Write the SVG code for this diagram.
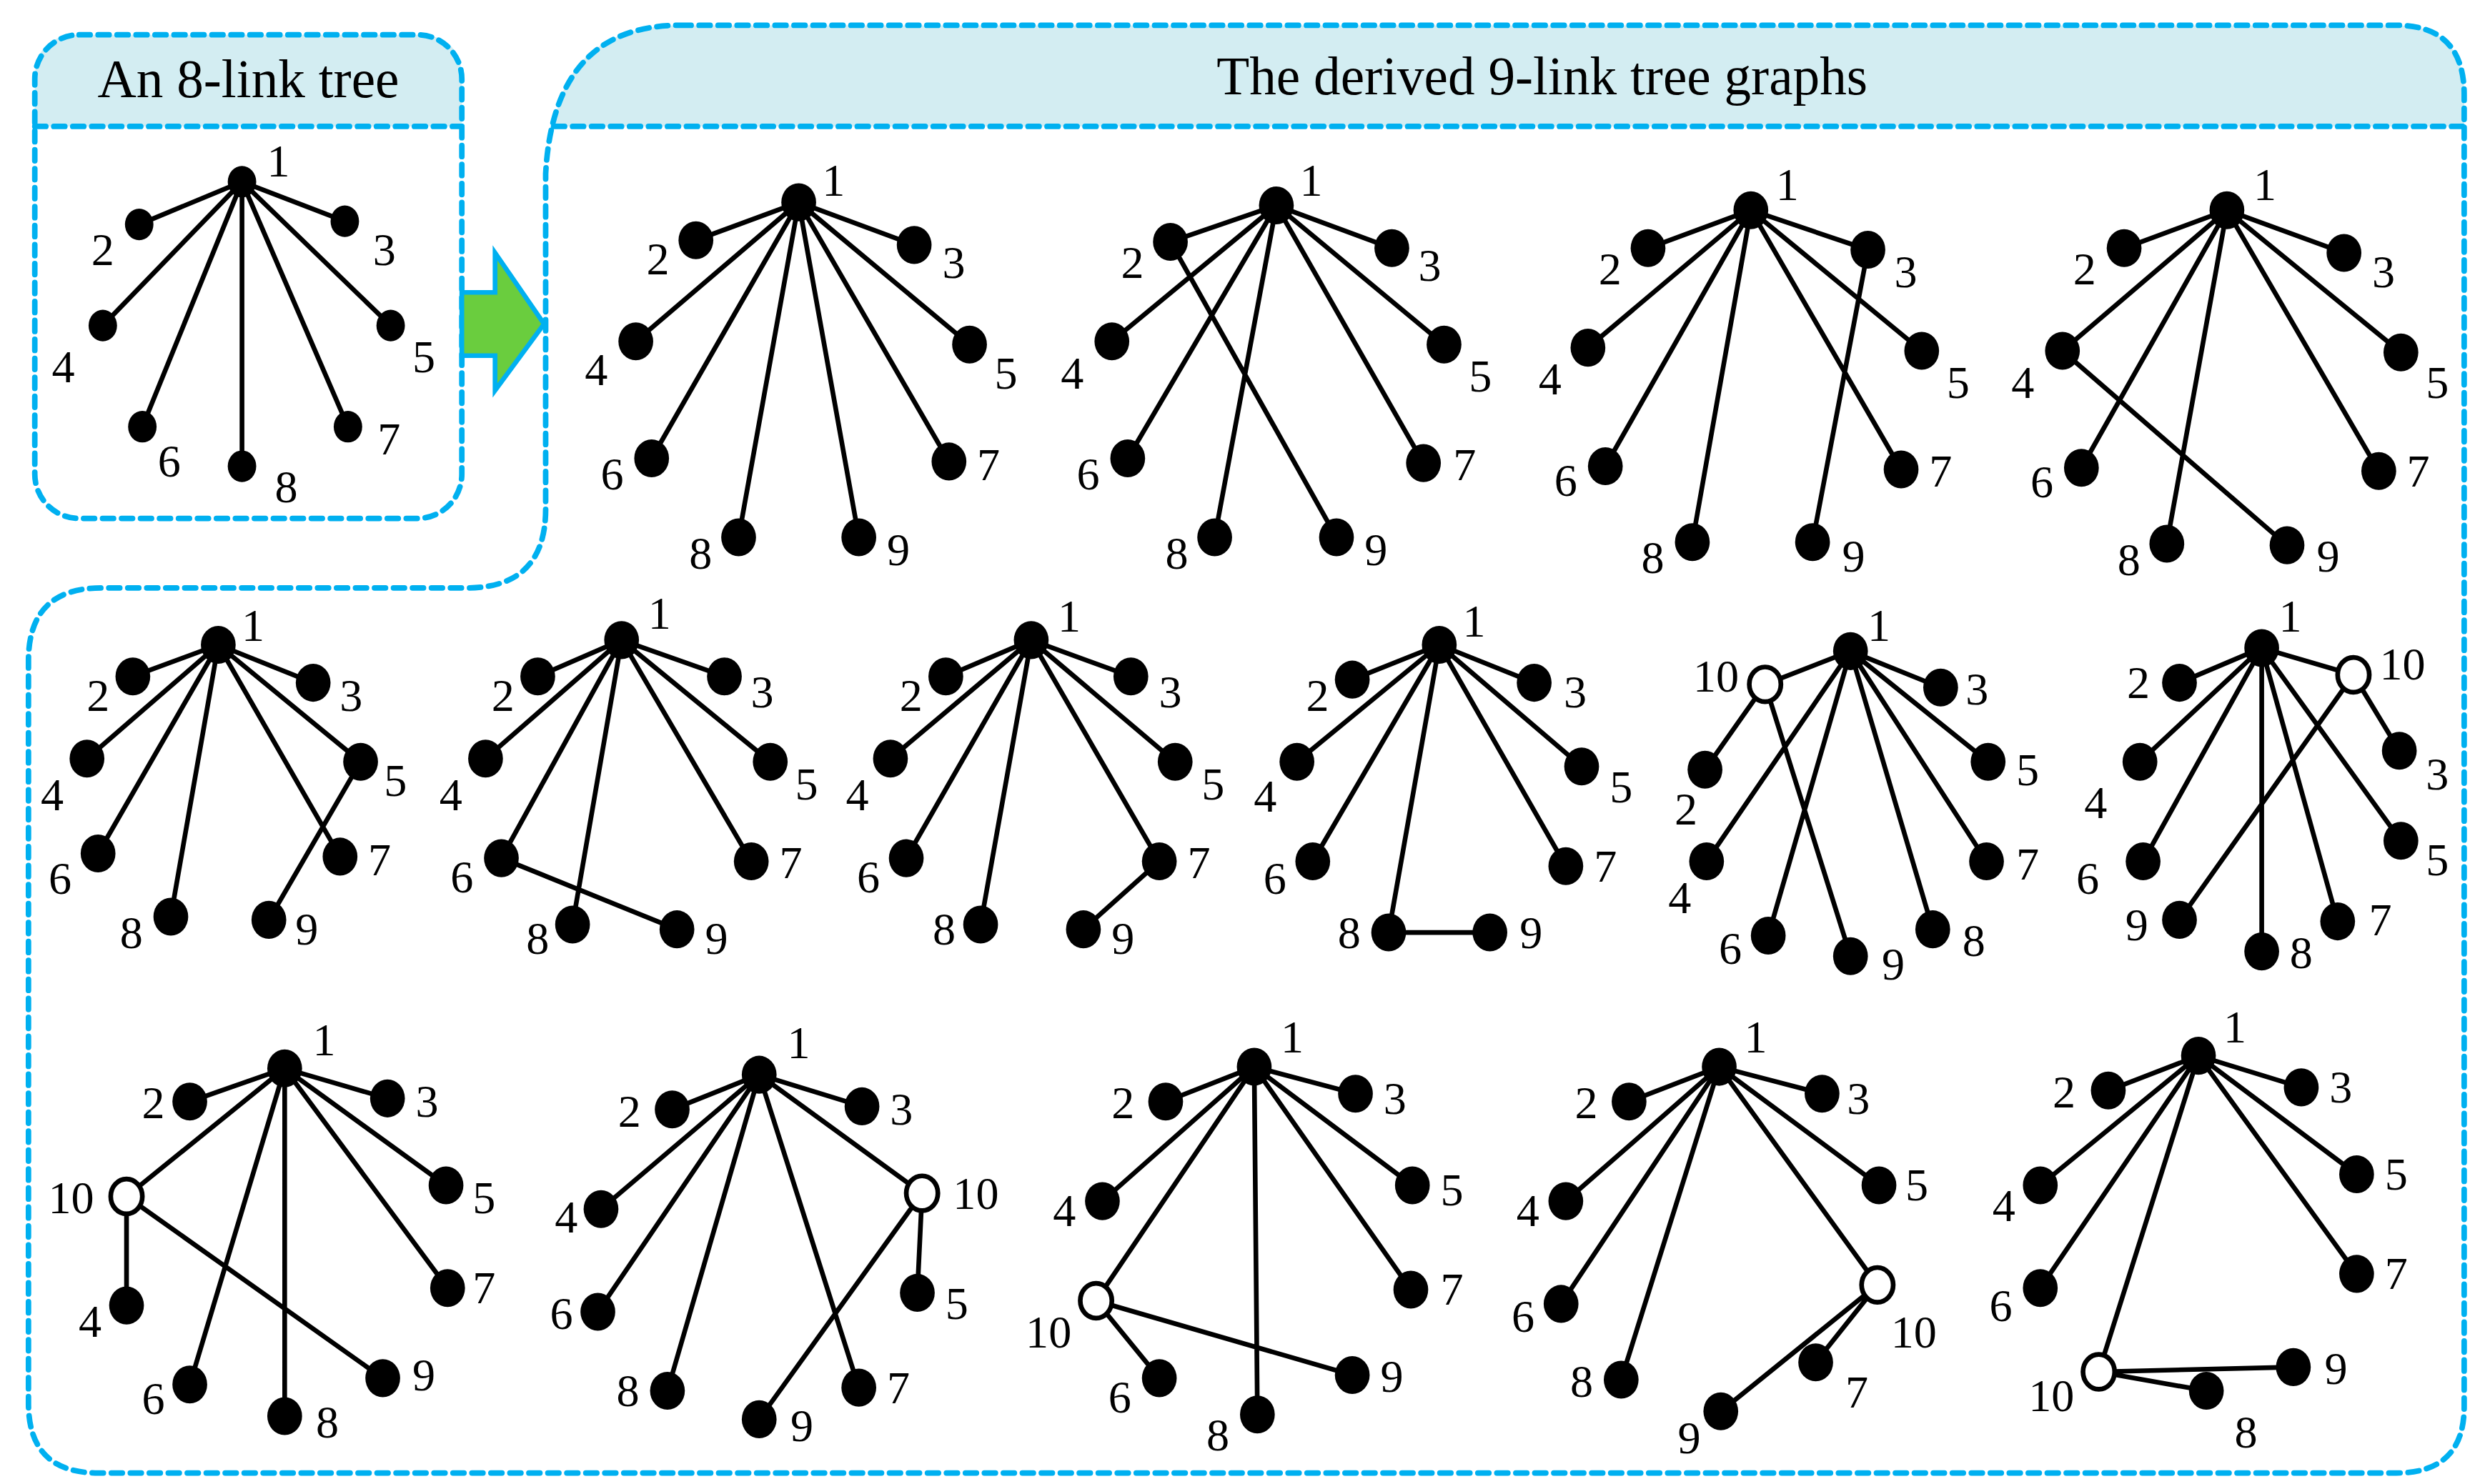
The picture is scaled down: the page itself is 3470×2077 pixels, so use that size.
<svg xmlns="http://www.w3.org/2000/svg" width="3470" height="2077" viewBox="0 0 3470 2077">
<style>
.e{stroke:#000;stroke-width:3;fill:none}
.n{fill:#000}
.o{fill:#fff;stroke:#000;stroke-width:3}
text{font-family:"Liberation Serif",serif;font-size:29px;text-anchor:middle;dominant-baseline:central;fill:#000}
.t{font-size:34px}
.b{fill:none;stroke:#00b0f0;stroke-width:3.5;stroke-dasharray:7,5;stroke-linecap:round}
.h{fill:#d3edf2}
</style>
<rect width="3470" height="2077" fill="#fff"/>
<g transform="scale(2.213,2.212)">
<g id="frames">
<path class="h" d="M22,80 V50 Q22,22 50,22 H264 Q292,22 292,50 V80 Z"/>
<rect class="b" x="22" y="22" width="270" height="306" rx="28"/>
<line class="b" x1="22" y1="80" x2="292" y2="80"/>
<text class="t" x="157" y="50">An 8-link tree</text>
<path class="h" d="M350,80 Q360,16 430,16 H1515 Q1558,16 1558,60 V80 Z"/>
<path class="b" d="M430,16 H1515 Q1558,16 1558,60 V890 Q1558,932 1515,932 H62 Q18,932 18,888 V418 Q18,372 64,372 H295 Q345,372 345,322 V110 Q350,16 430,16 Z"/>
<line class="b" x1="350" y1="80" x2="1558" y2="80"/>
<text class="t" x="975" y="48">The derived 9-link tree graphs</text>
<polygon points="292,185 313,185 313,160 344,205 313,247 313,225 292,225" fill="#6acd3e" stroke="#00b0f0" stroke-width="3"/>
</g>
<g id="connectors">
<path class="e" d="M153,115L88,142M153,115L218,140M153,115L65,206M153,115L247,206M153,115L90,270M153,115L220,270M153,115L153,295"/>
<path class="e" d="M505,128L440,152M505,128L578,155M505,128L402,216M505,128L613,218M505,128L412,290M505,128L600,292M505,128L467,340M505,128L543,340"/>
<path class="e" d="M807,130L740,153M807,130L880,157M807,130L703,216M807,130L913,218M807,130L713,290M807,130L900,293M807,130L768,340M740,153L845,340"/>
<path class="e" d="M1107,133L1042,157M1107,133L1181,158M1107,133L1004,220M1107,133L1215,222M1107,133L1015,295M1107,133L1202,297M1107,133L1070,343M1181,158L1146,343"/>
<path class="e" d="M1408,133L1343,157M1408,133L1482,160M1408,133L1304,222M1408,133L1518,223M1408,133L1316,296M1408,133L1504,298M1408,133L1370,344M1304,222L1446,345"/>
<path class="e" d="M138,408L84,428M138,408L198,432M138,408L55,480M138,408L228,482M138,408L62,540M138,408L215,542M138,408L108,580M228,482L170,582"/>
<path class="e" d="M393,405L340,428M393,405L458,428M393,405L307,480M393,405L487,482M393,405L317,543M393,405L475,545M393,405L362,585M317,543L428,588"/>
<path class="e" d="M652,405L598,428M652,405L715,428M652,405L563,480M652,405L743,482M652,405L573,543M652,405L733,545M652,405L620,585M733,545L685,588"/>
<path class="e" d="M910,408L855,430M910,408L970,432M910,408L820,482M910,408L1000,485M910,408L830,545M910,408L990,548M910,408L878,590M878,590L942,590"/>
<path class="e" d="M1170,412L1116,433M1170,412L1227,435M1170,412L1257,482M1170,412L1256,545M1170,412L1222,588M1170,412L1118,592M1170,412L1079,545M1116,433L1078,487M1116,433L1170,605"/>
<path class="e" d="M1430,410L1378,432M1430,410L1488,427M1430,410L1353,482M1430,410L1355,545M1430,410L1430,602M1430,410L1478,583M1430,410L1518,532M1488,427L1517,475M1488,427L1378,582"/>
<path class="e" d="M180,676L120,697M180,676L245,695M180,676L80,757M180,676L282,750M180,676L283,815M180,676L120,876M180,676L180,896M80,757L80,826M80,757L242,872"/>
<path class="e" d="M480,680L425,702M480,680L545,700M480,680L380,765M480,680L378,830M480,680L422,880M480,680L543,878M480,680L583,755M583,755L580,818M583,755L480,898"/>
<path class="e" d="M793,675L737,697M793,675L857,692M793,675L697,760M793,675L693,823M793,675L795,895M793,675L892,816M793,675L893,750M693,823L733,872M693,823L855,870"/>
<path class="e" d="M1087,675L1030,697M1087,675L1152,692M1087,675L990,760M1087,675L987,825M1087,675L1025,873M1087,675L1187,813M1087,675L1188,750M1187,813L1148,862M1187,813L1088,893"/>
<path class="e" d="M1390,668L1333,690M1390,668L1455,688M1390,668L1290,750M1390,668L1290,815M1390,668L1327,868M1390,668L1490,806M1390,668L1490,743M1327,868L1450,865M1327,868L1395,880"/>
</g>
<g id="tree0">
<ellipse class="n" cx="153" cy="115" rx="9" ry="10"/><ellipse class="n" cx="88" cy="142" rx="9" ry="10"/><ellipse class="n" cx="218" cy="140" rx="9" ry="10"/><ellipse class="n" cx="65" cy="206" rx="9" ry="10"/><ellipse class="n" cx="247" cy="206" rx="9" ry="10"/><ellipse class="n" cx="90" cy="270" rx="9" ry="10"/><ellipse class="n" cx="220" cy="270" rx="9" ry="10"/><ellipse class="n" cx="153" cy="295" rx="9" ry="10"/>
<text x="176" y="102">1</text><text x="65" y="158">2</text><text x="243" y="158">3</text><text x="40" y="232">4</text><text x="268" y="226">5</text><text x="107" y="292">6</text><text x="246" y="278">7</text><text x="181" y="308">8</text>
</g>
<g id="gA">
<ellipse class="n" cx="505" cy="128" rx="11" ry="12"/><ellipse class="n" cx="440" cy="152" rx="11" ry="12"/><ellipse class="n" cx="578" cy="155" rx="11" ry="12"/><ellipse class="n" cx="402" cy="216" rx="11" ry="12"/><ellipse class="n" cx="613" cy="218" rx="11" ry="12"/><ellipse class="n" cx="412" cy="290" rx="11" ry="12"/><ellipse class="n" cx="600" cy="292" rx="11" ry="12"/><ellipse class="n" cx="467" cy="340" rx="11" ry="12"/><ellipse class="n" cx="543" cy="340" rx="11" ry="12"/>
<text x="527" y="114">1</text><text x="416" y="164">2</text><text x="603" y="166">3</text><text x="377" y="234">4</text><text x="636" y="236">5</text><text x="387" y="300">6</text><text x="625" y="294">7</text><text x="443" y="350">8</text><text x="568" y="348">9</text>
</g>
<g id="gB">
<ellipse class="n" cx="807" cy="130" rx="11" ry="12"/><ellipse class="n" cx="740" cy="153" rx="11" ry="12"/><ellipse class="n" cx="880" cy="157" rx="11" ry="12"/><ellipse class="n" cx="703" cy="216" rx="11" ry="12"/><ellipse class="n" cx="913" cy="218" rx="11" ry="12"/><ellipse class="n" cx="713" cy="290" rx="11" ry="12"/><ellipse class="n" cx="900" cy="293" rx="11" ry="12"/><ellipse class="n" cx="768" cy="340" rx="11" ry="12"/><ellipse class="n" cx="845" cy="340" rx="11" ry="12"/>
<text x="829" y="114">1</text><text x="716" y="166">2</text><text x="904" y="168">3</text><text x="678" y="236">4</text><text x="936" y="238">5</text><text x="688" y="300">6</text><text x="926" y="294">7</text><text x="744" y="350">8</text><text x="870" y="348">9</text>
</g>
<g id="gC">
<ellipse class="n" cx="1107" cy="133" rx="11" ry="12"/><ellipse class="n" cx="1042" cy="157" rx="11" ry="12"/><ellipse class="n" cx="1181" cy="158" rx="11" ry="12"/><ellipse class="n" cx="1004" cy="220" rx="11" ry="12"/><ellipse class="n" cx="1215" cy="222" rx="11" ry="12"/><ellipse class="n" cx="1015" cy="295" rx="11" ry="12"/><ellipse class="n" cx="1202" cy="297" rx="11" ry="12"/><ellipse class="n" cx="1070" cy="343" rx="11" ry="12"/><ellipse class="n" cx="1146" cy="343" rx="11" ry="12"/>
<text x="1130" y="117">1</text><text x="1018" y="170">2</text><text x="1205" y="172">3</text><text x="980" y="240">4</text><text x="1238" y="242">5</text><text x="990" y="304">6</text><text x="1227" y="298">7</text><text x="1045" y="353">8</text><text x="1172" y="352">9</text>
</g>
<g id="gD">
<ellipse class="n" cx="1408" cy="133" rx="11" ry="12"/><ellipse class="n" cx="1343" cy="157" rx="11" ry="12"/><ellipse class="n" cx="1482" cy="160" rx="11" ry="12"/><ellipse class="n" cx="1304" cy="222" rx="11" ry="12"/><ellipse class="n" cx="1518" cy="223" rx="11" ry="12"/><ellipse class="n" cx="1316" cy="296" rx="11" ry="12"/><ellipse class="n" cx="1504" cy="298" rx="11" ry="12"/><ellipse class="n" cx="1370" cy="344" rx="11" ry="12"/><ellipse class="n" cx="1446" cy="345" rx="11" ry="12"/>
<text x="1432" y="117">1</text><text x="1318" y="170">2</text><text x="1507" y="172">3</text><text x="1279" y="242">4</text><text x="1541" y="242">5</text><text x="1291" y="305">6</text><text x="1529" y="298">7</text><text x="1346" y="354">8</text><text x="1472" y="352">9</text>
</g>
<g id="gE">
<ellipse class="n" cx="138" cy="408" rx="11" ry="12"/><ellipse class="n" cx="84" cy="428" rx="11" ry="12"/><ellipse class="n" cx="198" cy="432" rx="11" ry="12"/><ellipse class="n" cx="55" cy="480" rx="11" ry="12"/><ellipse class="n" cx="228" cy="482" rx="11" ry="12"/><ellipse class="n" cx="62" cy="540" rx="11" ry="12"/><ellipse class="n" cx="215" cy="542" rx="11" ry="12"/><ellipse class="n" cx="108" cy="580" rx="11" ry="12"/><ellipse class="n" cx="170" cy="582" rx="11" ry="12"/>
<text x="160" y="396">1</text><text x="62" y="440">2</text><text x="222" y="440">3</text><text x="33" y="503">4</text><text x="250" y="494">5</text><text x="38" y="556">6</text><text x="240" y="544">7</text><text x="83" y="590">8</text><text x="194" y="588">9</text>
</g>
<g id="gF">
<ellipse class="n" cx="393" cy="405" rx="11" ry="12"/><ellipse class="n" cx="340" cy="428" rx="11" ry="12"/><ellipse class="n" cx="458" cy="428" rx="11" ry="12"/><ellipse class="n" cx="307" cy="480" rx="11" ry="12"/><ellipse class="n" cx="487" cy="482" rx="11" ry="12"/><ellipse class="n" cx="317" cy="543" rx="11" ry="12"/><ellipse class="n" cx="475" cy="545" rx="11" ry="12"/><ellipse class="n" cx="362" cy="585" rx="11" ry="12"/><ellipse class="n" cx="428" cy="588" rx="11" ry="12"/>
<text x="417" y="388">1</text><text x="318" y="440">2</text><text x="482" y="438">3</text><text x="285" y="503">4</text><text x="510" y="496">5</text><text x="292" y="555">6</text><text x="500" y="546">7</text><text x="340" y="594">8</text><text x="453" y="594">9</text>
</g>
<g id="gG">
<ellipse class="n" cx="652" cy="405" rx="11" ry="12"/><ellipse class="n" cx="598" cy="428" rx="11" ry="12"/><ellipse class="n" cx="715" cy="428" rx="11" ry="12"/><ellipse class="n" cx="563" cy="480" rx="11" ry="12"/><ellipse class="n" cx="743" cy="482" rx="11" ry="12"/><ellipse class="n" cx="573" cy="543" rx="11" ry="12"/><ellipse class="n" cx="733" cy="545" rx="11" ry="12"/><ellipse class="n" cx="620" cy="585" rx="11" ry="12"/><ellipse class="n" cx="685" cy="588" rx="11" ry="12"/>
<text x="676" y="390">1</text><text x="576" y="440">2</text><text x="740" y="438">3</text><text x="542" y="503">4</text><text x="767" y="496">5</text><text x="549" y="555">6</text><text x="758" y="546">7</text><text x="597" y="588">8</text><text x="710" y="594">9</text>
</g>
<g id="gH">
<ellipse class="n" cx="910" cy="408" rx="11" ry="12"/><ellipse class="n" cx="855" cy="430" rx="11" ry="12"/><ellipse class="n" cx="970" cy="432" rx="11" ry="12"/><ellipse class="n" cx="820" cy="482" rx="11" ry="12"/><ellipse class="n" cx="1000" cy="485" rx="11" ry="12"/><ellipse class="n" cx="830" cy="545" rx="11" ry="12"/><ellipse class="n" cx="990" cy="548" rx="11" ry="12"/><ellipse class="n" cx="878" cy="590" rx="11" ry="12"/><ellipse class="n" cx="942" cy="590" rx="11" ry="12"/>
<text x="932" y="393">1</text><text x="833" y="440">2</text><text x="996" y="438">3</text><text x="800" y="504">4</text><text x="1025" y="498">5</text><text x="806" y="556">6</text><text x="1015" y="548">7</text><text x="853" y="590">8</text><text x="968" y="590">9</text>
</g>
<g id="gI">
<ellipse class="n" cx="1170" cy="412" rx="11" ry="12"/><ellipse class="o" cx="1116" cy="433" rx="10" ry="11"/><ellipse class="n" cx="1227" cy="435" rx="11" ry="12"/><ellipse class="n" cx="1078" cy="487" rx="11" ry="12"/><ellipse class="n" cx="1257" cy="482" rx="11" ry="12"/><ellipse class="n" cx="1079" cy="545" rx="11" ry="12"/><ellipse class="n" cx="1256" cy="545" rx="11" ry="12"/><ellipse class="n" cx="1118" cy="592" rx="11" ry="12"/><ellipse class="n" cx="1170" cy="605" rx="11" ry="12"/><ellipse class="n" cx="1222" cy="588" rx="11" ry="12"/>
<text x="1188" y="396">1</text><text x="1085" y="428">10</text><text x="1250" y="436">3</text><text x="1066" y="512">2</text><text x="1282" y="487">5</text><text x="1062" y="568">4</text><text x="1282" y="547">7</text><text x="1094" y="600">6</text><text x="1197" y="610">9</text><text x="1248" y="595">8</text>
</g>
<g id="gJ">
<ellipse class="n" cx="1430" cy="410" rx="11" ry="12"/><ellipse class="n" cx="1378" cy="432" rx="11" ry="12"/><ellipse class="o" cx="1488" cy="427" rx="10" ry="11"/><ellipse class="n" cx="1517" cy="475" rx="11" ry="12"/><ellipse class="n" cx="1353" cy="482" rx="11" ry="12"/><ellipse class="n" cx="1518" cy="532" rx="11" ry="12"/><ellipse class="n" cx="1355" cy="545" rx="11" ry="12"/><ellipse class="n" cx="1378" cy="582" rx="11" ry="12"/><ellipse class="n" cx="1430" cy="602" rx="11" ry="12"/><ellipse class="n" cx="1478" cy="583" rx="11" ry="12"/>
<text x="1448" y="390">1</text><text x="1352" y="432">2</text><text x="1519" y="420">10</text><text x="1541" y="490">3</text><text x="1325" y="508">4</text><text x="1541" y="544">5</text><text x="1320" y="556">6</text><text x="1351" y="585">9</text><text x="1455" y="603">8</text><text x="1505" y="582">7</text>
</g>
<g id="gK">
<ellipse class="n" cx="180" cy="676" rx="11" ry="12"/><ellipse class="n" cx="120" cy="697" rx="11" ry="12"/><ellipse class="n" cx="245" cy="695" rx="11" ry="12"/><ellipse class="o" cx="80" cy="757" rx="10" ry="11"/><ellipse class="n" cx="282" cy="750" rx="11" ry="12"/><ellipse class="n" cx="80" cy="826" rx="11" ry="12"/><ellipse class="n" cx="283" cy="815" rx="11" ry="12"/><ellipse class="n" cx="120" cy="876" rx="11" ry="12"/><ellipse class="n" cx="180" cy="896" rx="11" ry="12"/><ellipse class="n" cx="242" cy="872" rx="11" ry="12"/>
<text x="205" y="658">1</text><text x="97" y="698">2</text><text x="270" y="697">3</text><text x="45" y="758">10</text><text x="306" y="758">5</text><text x="57" y="836">4</text><text x="306" y="815">7</text><text x="97" y="885">6</text><text x="207" y="900">8</text><text x="268" y="870">9</text>
</g>
<g id="gL">
<ellipse class="n" cx="480" cy="680" rx="11" ry="12"/><ellipse class="n" cx="425" cy="702" rx="11" ry="12"/><ellipse class="n" cx="545" cy="700" rx="11" ry="12"/><ellipse class="n" cx="380" cy="765" rx="11" ry="12"/><ellipse class="o" cx="583" cy="755" rx="10" ry="11"/><ellipse class="n" cx="378" cy="830" rx="11" ry="12"/><ellipse class="n" cx="580" cy="818" rx="11" ry="12"/><ellipse class="n" cx="422" cy="880" rx="11" ry="12"/><ellipse class="n" cx="480" cy="898" rx="11" ry="12"/><ellipse class="n" cx="543" cy="878" rx="11" ry="12"/>
<text x="505" y="660">1</text><text x="398" y="703">2</text><text x="570" y="702">3</text><text x="358" y="770">4</text><text x="617" y="755">10</text><text x="355" y="831">6</text><text x="605" y="825">5</text><text x="397" y="880">8</text><text x="507" y="902">9</text><text x="568" y="878">7</text>
</g>
<g id="gM">
<ellipse class="n" cx="793" cy="675" rx="11" ry="12"/><ellipse class="n" cx="737" cy="697" rx="11" ry="12"/><ellipse class="n" cx="857" cy="692" rx="11" ry="12"/><ellipse class="n" cx="697" cy="760" rx="11" ry="12"/><ellipse class="n" cx="893" cy="750" rx="11" ry="12"/><ellipse class="o" cx="693" cy="823" rx="10" ry="11"/><ellipse class="n" cx="892" cy="816" rx="11" ry="12"/><ellipse class="n" cx="733" cy="872" rx="11" ry="12"/><ellipse class="n" cx="855" cy="870" rx="11" ry="12"/><ellipse class="n" cx="795" cy="895" rx="11" ry="12"/>
<text x="817" y="656">1</text><text x="710" y="698">2</text><text x="882" y="695">3</text><text x="673" y="766">4</text><text x="918" y="753">5</text><text x="663" y="843">10</text><text x="918" y="816">7</text><text x="708" y="884">6</text><text x="880" y="871">9</text><text x="770" y="908">8</text>
</g>
<g id="gN">
<ellipse class="n" cx="1087" cy="675" rx="11" ry="12"/><ellipse class="n" cx="1030" cy="697" rx="11" ry="12"/><ellipse class="n" cx="1152" cy="692" rx="11" ry="12"/><ellipse class="n" cx="990" cy="760" rx="11" ry="12"/><ellipse class="n" cx="1188" cy="750" rx="11" ry="12"/><ellipse class="n" cx="987" cy="825" rx="11" ry="12"/><ellipse class="o" cx="1187" cy="813" rx="10" ry="11"/><ellipse class="n" cx="1025" cy="873" rx="11" ry="12"/><ellipse class="n" cx="1148" cy="862" rx="11" ry="12"/><ellipse class="n" cx="1088" cy="893" rx="11" ry="12"/>
<text x="1110" y="656">1</text><text x="1003" y="698">2</text><text x="1175" y="695">3</text><text x="966" y="766">4</text><text x="1212" y="750">5</text><text x="963" y="833">6</text><text x="1210" y="843">10</text><text x="1000" y="874">8</text><text x="1174" y="881">7</text><text x="1068" y="910">9</text>
</g>
<g id="gO">
<ellipse class="n" cx="1390" cy="668" rx="11" ry="12"/><ellipse class="n" cx="1333" cy="690" rx="11" ry="12"/><ellipse class="n" cx="1455" cy="688" rx="11" ry="12"/><ellipse class="n" cx="1290" cy="750" rx="11" ry="12"/><ellipse class="n" cx="1490" cy="743" rx="11" ry="12"/><ellipse class="n" cx="1290" cy="815" rx="11" ry="12"/><ellipse class="n" cx="1490" cy="806" rx="11" ry="12"/><ellipse class="o" cx="1327" cy="868" rx="10" ry="11"/><ellipse class="n" cx="1450" cy="865" rx="11" ry="12"/><ellipse class="n" cx="1395" cy="880" rx="11" ry="12"/>
<text x="1413" y="650">1</text><text x="1305" y="691">2</text><text x="1480" y="688">3</text><text x="1267" y="763">4</text><text x="1515" y="743">5</text><text x="1265" y="826">6</text><text x="1515" y="806">7</text><text x="1297" y="883">10</text><text x="1477" y="866">9</text><text x="1420" y="906">8</text>
</g>
</g>
</svg>
